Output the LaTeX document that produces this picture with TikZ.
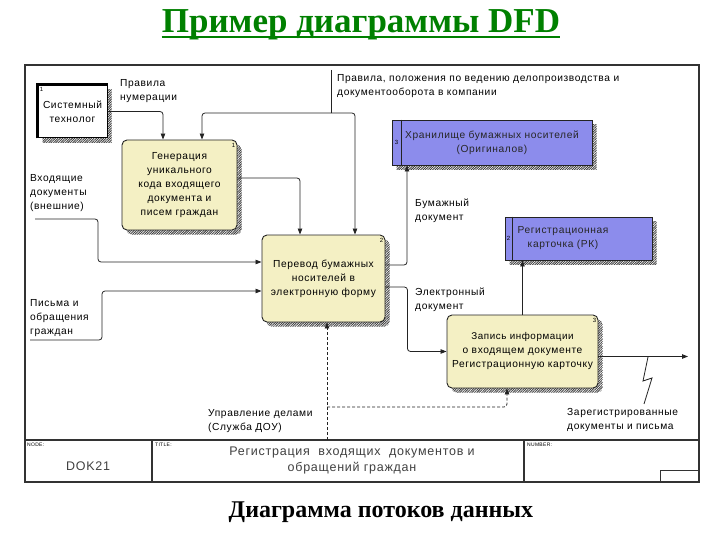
\documentclass[tikz,border=0pt]{standalone}
\usepackage{fontspec}
\setmainfont{Liberation Serif}
\newfontfamily\dfont[LetterSpace=6]{Liberation Sans}
\usetikzlibrary{arrows.meta,shadows,patterns.meta,calc}
\definecolor{procfill}{RGB}{244,240,196}
\definecolor{storefill}{RGB}{140,140,236}
\definecolor{titlegreen}{RGB}{0,128,0}
\definecolor{lineclr}{RGB}{35,35,35}
\begin{document}
\begin{tikzpicture}[x=1pt,y=-1pt,
  every node/.style={font=\dfont\fontsize{10.2}{14}\selectfont},
  hatch/.style={general shadow={shadow xshift=4.5pt,shadow yshift=-4.5pt,
      pattern={Lines[angle=45,distance=1.7pt,line width=0.9pt]},pattern color=black!75}},
  proc/.style={draw=lineclr,line width=0.9pt,fill=procfill,rounded corners=5pt,
      align=center,inner sep=2pt,hatch},
  store/.style={draw=lineclr,line width=0.9pt,fill=storefill,inner sep=0pt,hatch},
  ent/.style={draw=black,line width=1pt,fill=white,align=center,inner sep=0pt,hatch},
  stxt/.style={align=center,inner sep=0pt,text=black!85},
  lbl/.style={align=left,anchor=west,inner sep=0pt},
  num/.style={font=\dfont\fontsize{6}{6}\selectfont,inner sep=0pt},
  tiny/.style={font=\dfont\fontsize{5}{5}\selectfont,inner sep=0pt,anchor=north west},
  frame/.style={draw=black!80,line width=1.1pt},
  flow/.style={draw=lineclr,line width=0.8pt,rounded corners=3pt,
      -{Triangle[length=6pt,width=4.5pt]}},
  plain/.style={draw=lineclr,line width=0.8pt},
  dsh/.style={dash pattern=on 3pt off 2pt}
]
\useasboundingbox (0,0) rectangle (720,540);

% title and caption
\node[font=\bfseries\fontsize{35}{40}\selectfont,text=titlegreen,inner sep=0pt] (title) at (361,25) {Пример диаграммы DFD};
\draw[titlegreen,line width=2.4pt] ([yshift=-4.5pt]title.base west) -- ([yshift=-4.5pt]title.base east);
\node[font=\bfseries\fontsize{24}{28}\selectfont,inner sep=0pt] (caption) at (381,512) {Диаграмма потоков данных};

% frame
\draw[frame] (25,65) rectangle (699,482);
\draw[frame] (25,440) -- (699,440);
\draw[frame] (152,440) -- (152,482);
\draw[frame] (524,440) -- (524,482);
\draw[draw=black!80,line width=0.8pt] (660,470) rectangle (699,482);

% footer texts
\node[tiny] (nodel) at (27,443) {NODE:};
\node[font=\dfont\fontsize{12.5}{14}\selectfont,text=black!75,inner sep=0pt] (dok) at (88,466) {DOK21};
\node[tiny] (titlel) at (155,443) {TITLE:};
\node[font=\dfont\fontsize{12.5}{16}\selectfont,text=black!75,align=center,inner sep=0pt] (ftitle) at (352,460) {Регистрация\ \ входящих\ \ документов и\\обращений граждан};
\node[tiny] (numl) at (527,443) {NUMBER:};

% external entity
\node[ent,minimum width=69pt,minimum height=53pt] (ent) at (72.5,111.5) {Системный\\технолог};
\draw[black,line width=2.6pt] (ent.south west) -- (ent.north west) -- (ent.north east);
\node[num] at ([xshift=4pt,yshift=-5pt]ent.north west) {1};

% processes
\node[proc,minimum width=115pt,minimum height=90pt] (p1) at (179.5,185)
  {Генерация\\уникального\\кода входящего\\документа и\\писем граждан};
\node[num] at ([xshift=-4pt,yshift=-6pt]p1.north east) {1};
\node[proc,minimum width=123pt,minimum height=87pt] (p2) at (323.5,278.5)
  {Перевод бумажных\\носителей в\\электронную форму};
\node[num] at ([xshift=-4pt,yshift=-6pt]p2.north east) {2};
\node[proc,minimum width=151pt,minimum height=73pt] (p3) at (522.5,351.5)
  {\fontsize{9.8}{14}\selectfont Запись информации\\о входящем документе\\Регистрационную карточку};
\node[num] at ([xshift=-4pt,yshift=-6pt]p3.north east) {3};

% data stores
\node[store,minimum width=200pt,minimum height=45pt] (s3) at (492,142.5) {};
\draw[lineclr,line width=0.8pt] ([xshift=10pt]s3.north west) -- ([xshift=10pt]s3.south west);
\node[num] at ([xshift=5pt]s3.west) {3};
\node[stxt] (s3t) at (492,142.5) {Хранилище бумажных носителей\\(Оригиналов)};
\node[store,minimum width=147pt,minimum height=43pt] (s2) at (578.5,238.5) {};
\draw[lineclr,line width=0.8pt] ([xshift=8pt]s2.north west) -- ([xshift=8pt]s2.south west);
\node[num] at ([xshift=4pt]s2.west) {2};
\node[stxt] (s2t) at (563,238.5) {Регистрационная\\карточка (РК)};

% labels
\node[lbl] (l1) at (120,91) {Правила\\нумерации};
\node[lbl] (l2) at (337,86.5) {Правила, положения по ведению делопроизводства и\\документооборота в компании};
\node[lbl] (l3) at (30,193) {Входящие\\документы\\(внешние)};
\node[lbl] (l4) at (30,318) {Письма и\\обращения\\граждан};
\node[lbl] (l5) at (415,211) {Бумажный\\документ};
\node[lbl] (l6) at (415,300) {Электронный\\документ};
\node[lbl] (l7) at (208,421) {Управление делами\\(Служба ДОУ)};
\node[lbl] (l8) at (567,420) {Зарегистрированные\\документы и письма};

% connectors
\draw[flow] (ent.east) -| ([xshift=-16.5pt]p1.north);
\coordinate (ctop) at (331,70);
\coordinate (cj) at (331,113);
\draw[plain] (ctop) -- (cj);
\draw[flow] (cj) -| ([xshift=22.5pt]p1.north);
\draw[flow] (cj) -| ([xshift=31.5pt]p2.north);
\draw[flow] ([yshift=7pt]p1.east) -| ([xshift=-23.5pt]p2.north);
\coordinate (in1) at (35,219);
\draw[flow] (in1) -- ++(63,0) |- ([yshift=16.5pt]p2.west);
\coordinate (in2) at (30,340);
\draw[flow] (in2) -- ++(72,0) |- ([yshift=-12.5pt]p2.west);
\draw[flow] ([yshift=13.5pt]p2.east) -| ([xshift=-85pt]s3.south);
\draw[flow] ([yshift=-8.5pt]p2.east) -- ++(22,0) |- (p3.west);
\draw[flow] (p3.north) -- (p3.north |- s2.south);
\coordinate (out) at (688,356.5);
\draw[flow] ([yshift=-5pt]p3.east) -- (out);
\draw[plain] (648,357) -- (643,381) -- (652,378) -- (644,404);
\coordinate (db) at (327,440);
\coordinate (dj) at (327,407);
\draw[flow,dsh] (db) -- (db |- p2.south);
\draw[flow,dsh] (dj) -| ([xshift=-15.5pt]p3.south);
\end{tikzpicture}
\end{document}
